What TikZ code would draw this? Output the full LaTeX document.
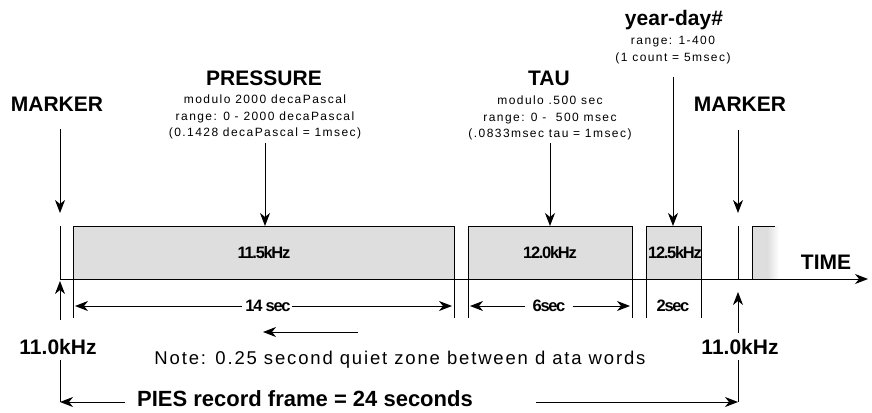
\documentclass[tikz,border=0pt]{standalone}
\usepackage{fontspec}
\setmainfont{Liberation Sans}
\newfontfamily\smallfont[LetterSpace=12]{Liberation Sans}
\newfontfamily\notefont[LetterSpace=10]{Liberation Sans}
\newfontfamily\condfont[LetterSpace=-8]{Liberation Sans}
\usetikzlibrary{arrows.meta}
\definecolor{boxgray}{HTML}{DEDEDE}
\tikzset{
  big/.style={font=\fontsize{21}{24}\selectfont\bfseries, inner sep=0pt},
  small/.style={font=\smallfont\fontsize{12}{16.5}\selectfont, align=center, inner sep=0pt},
  cond/.style={font=\condfont\fontsize{16.5}{18}\selectfont\bfseries, inner sep=0pt},
  note/.style={font=\notefont\fontsize{18.5}{22}\selectfont, inner sep=0pt},
  arr/.style={-{Stealth[length=13pt,width=10pt,inset=4pt]}, line width=1pt},
  ln/.style={line width=1pt},
  databox/.style={draw, line width=1pt, fill=boxgray, minimum height=53pt, inner sep=0pt, anchor=north west},
}
\begin{document}
\begin{tikzpicture}[x=1pt,y=-1pt]
\useasboundingbox (0,0) rectangle (872,412);
% boxes
\node[databox, minimum width=381pt] (b1) at (73,226) {};
\node[databox, minimum width=164pt] (b2) at (468,226) {};
\node[databox, minimum width=55pt] (b3) at (646,226) {};
\node[cond] (b1t) at (264,253) {11.5kHz};
\node[cond] (b2t) at (550,253) {12.0kHz};
\node[cond] (b3t) at (675,253) {12.5kHz};
\fill[boxgray] (752,226) rectangle (768,279);
\shade[left color=boxgray,right color=white] (767.5,226) rectangle (779,279);
\coordinate (b4a) at (752,279);
\coordinate (b4b) at (752,226);
\coordinate (b4c) at (775,226);
\draw[ln] (b4a) -- (b4b) -- (b4c);
% axis
\coordinate (ax0) at (60,279);
\coordinate (ax1) at (868,279);
\draw[arr] (ax0) -- (ax1);
\node[big] (time) at (826,262) {TIME};
% extension lines below axis
\foreach \x/\n in {73/e1,454/e2,468/e3,632/e4,646/e5,701/e6}{
  \coordinate (\n a) at (\x,279);
  \coordinate (\n b) at (\x,318);
  \draw[ln] (\n a) -- (\n b);
}
% left marker
\node[big] (mk1) at (57,104) {MARKER};
\coordinate (mk1a) at (60,129);
\coordinate (mk1b) at (60,213);
\draw[arr] (mk1a) -- (mk1b);
\coordinate (mk1c) at (60,226);
\draw[ln] (mk1c) -- (ax0);
% right marker
\node[big] (mk2) at (740,104) {MARKER};
\coordinate (mk2a) at (738,130);
\coordinate (mk2b) at (738,213);
\draw[arr] (mk2a) -- (mk2b);
\coordinate (mk2c) at (738,226);
\coordinate (mk2d) at (738,279);
\draw[ln] (mk2c) -- (mk2d);
% pressure
\node[big] (pt) at (264,78) {PRESSURE};
\node[small] (ps) at (265,117) {modulo 2000 decaPascal\\range: 0 - 2000 decaPascal\\(0.1428 decaPascal = 1msec)};
\coordinate (pa) at (265,143);
\draw[arr] (pa) -- (pa |- b1.north);
% tau
\node[big] (tt) at (549,78) {TAU};
\node[small] (ts) at (550,118) {modulo .500 sec\\range: 0 -\ \ 500 msec\\(.0833msec tau = 1msec)};
\coordinate (ta) at (550,143);
\draw[arr] (ta) -- (ta |- b2.north);
% year-day
\node[big] (yt) at (674,20) {year-day\#};
\node[small] (ys) at (673,50) {range: 1-400\\(1 count = 5msec)};
\coordinate (ya) at (673,77);
\draw[arr] (ya) -- (ya |- b3.north);
% dimensions
\node[cond] (d1) at (268,306) {14 sec};
\coordinate (d1l) at (75,306);
\coordinate (d1r) at (452,306);
\draw[arr] ([xshift=-3pt]d1.west) -- (d1l);
\draw[arr] ([xshift=1pt]d1.east) -- (d1r);
\node[cond] (d2) at (549,306) {6sec};
\coordinate (d2l) at (470,306);
\coordinate (d2r) at (630,306);
\draw[arr] ([xshift=-7pt]d2.west) -- (d2l);
\draw[arr] ([xshift=7pt]d2.east) -- (d2r);
\node[cond] (d3) at (673,306) {2sec};
% note
\coordinate (na) at (358,332);
\coordinate (nb) at (263,332);
\draw[arr] (na) -- (nb);
\node[note] (nt) at (400,360) {Note: 0.25 second quiet zone between d ata words};
% 11.0kHz labels
\node[big] (k1) at (58,347) {11.0kHz};
\coordinate (k1a) at (60,320);
\coordinate (k1b) at (60,281);
\draw[arr] (k1a) -- (k1b);
\node[big] (k2) at (740,347) {11.0kHz};
\coordinate (k2a) at (738,333);
\coordinate (k2b) at (738,292);
\draw[arr] (k2a) -- (k2b);
% frame
\node[big, font=\fontsize{22}{24}\selectfont\bfseries] (pies) at (305,399) {PIES record frame = 24 seconds};
\coordinate (f1) at (60,360);
\coordinate (f2) at (60,402);
\coordinate (f3) at (125,402);
\draw[ln] (f1) -- (f2);
\draw[arr] (f3) -- (f2);
\coordinate (g1) at (536,402);
\coordinate (g2) at (738,402);
\coordinate (g3) at (738,360);
\draw[ln] (g2) -- (g3);
\draw[arr] (g1) -- (g2);
\end{tikzpicture}
\end{document}
